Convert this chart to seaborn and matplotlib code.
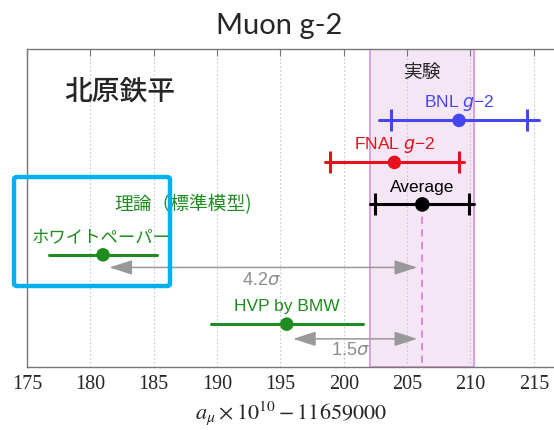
import numpy as np
import pandas as pd
import seaborn as sns
import matplotlib.pyplot as plt
from matplotlib.patches import FancyBboxPatch

# measurements (a_mu x 1e10 - 11659000)
names = ["BNL", "FNAL", "Average", "WP", "BMW"]
centers = [209.1, 204.0, 206.2, 181.0, 195.5]
err_total = [6.3, 5.5, 4.1, 4.3, 6.0]
err_stat = [5.4, 5.1, 3.7, None, None]
rows = [1.7, 2.7, 3.7, 4.9, 6.55]
colors = ["#4646F0", "#E8101C", "#000000", "#1E8C1E", "#1E8C1E"]

labels = ["BNL $g$\u22122", "FNAL $g$\u22122", "Average", "ホワイトペーパー", "HVP by BMW"]
tension_sigma = ["4.2", "1.5"]
tension_rows = [5.2, 6.9]

df = pd.DataFrame({"name": names, "x": centers, "y": rows})

sns.set_style("white")
plt.rcParams["font.family"] = ["Liberation Sans", "Noto Sans CJK JP", "DejaVu Sans"]

fig = plt.figure(figsize=(5.54, 4.30), dpi=100)
ax = fig.add_axes([27 / 554, 1 - 367 / 430, 543 / 554, 318 / 430])

avg = centers[2]
ax.axvspan(avg - err_total[2], avg + err_total[2], facecolor="#F4E6F4",
           edgecolor="#D99AD9", lw=1.3, zorder=0)
ax.plot([avg, avg], [rows[2], 7.6], ls=(0, (4, 3)), color="#E07EE0", lw=1.3, zorder=1)

for i in range(len(names)):
    c, e = centers[i], err_total[i]
    ax.plot([c - e, c + e], [rows[i], rows[i]], color=colors[i], lw=2.2, zorder=2)
    if err_stat[i] is not None:
        ax.errorbar(c, rows[i], xerr=err_stat[i], fmt="none", ecolor=colors[i],
                    elinewidth=0, capsize=8, capthick=2.2, zorder=2)

sns.scatterplot(data=df, x="x", y="y", hue="name", palette=dict(zip(names, colors)),
                s=[95, 95, 110, 95, 95], edgecolor="none", legend=False, ax=ax, zorder=3)

# labels above the points
for i in range(len(names)):
    if names[i] == "WP":
        continue
    ax.text(centers[i], rows[i] - 0.41, labels[i], color=colors[i], fontsize=12.5,
            ha="center", va="center", math_fontfamily="dejavusans", zorder=4)
ax.text(175.4, rows[3] - 0.42, labels[3], color=colors[3], fontsize=12.5,
        ha="left", va="center", family=["Noto Sans CJK JP"], zorder=4)

# tension arrows, theory value -> experimental average
for src, r in zip([centers[3], centers[4]], tension_rows):
    ax.annotate("", xy=(avg - 0.4, r), xytext=(src + 0.5, r),
                arrowprops=dict(arrowstyle="<|-|>,head_length=1.4,head_width=0.45",
                                color="#999999", lw=1.1, shrinkA=0, shrinkB=0), zorder=2)
ax.text(193.5, tension_rows[0] + 0.32, tension_sigma[0] + r"$\sigma$",
        color="#8C8C8C", fontsize=13, ha="center", va="center", math_fontfamily="dejavusans")
ax.text(200.5, tension_rows[1] + 0.28, tension_sigma[1] + r"$\sigma$",
        color="#8C8C8C", fontsize=13, ha="center", va="center", math_fontfamily="dejavusans")

ax.text(avg, 0.55, "実験", fontsize=13.5, ha="center", va="center",
        family=["Noto Sans CJK JP"])
ax.text(182.3, 1.0, "北原鉄平", fontsize=20, ha="center", va="center",
        family=["Noto Sans CJK JP"], weight="medium")
ax.text(181.9, 3.71, "理論（標準模型)", fontsize=13.5, ha="left", va="center",
        color="#1E8C1E", family=["Noto Sans CJK JP"])

ax.set_xlim(175, 217.86)
ax.set_ylim(7.57, 0)
ax.set_xticks(np.arange(175, 216, 5))
ax.set_yticks([])
ax.grid(axis="x", color="#C8C8C8", ls=(0, (1.5, 2)), lw=0.8)
ax.tick_params(axis="x", direction="in", top=True, length=5, color="#777777",
               labelsize=14.5, labelfontfamily="Liberation Serif", pad=6)
for sp in ax.spines.values():
    sp.set_color("#777777")
    sp.set_linewidth(1.0)
ax.set_xlabel(r"$a_\mu \times 10^{10} - 11659000$", fontsize=16,
              math_fontfamily="stix", labelpad=5)
ax.xaxis.set_label_coords(0.486, -0.1)
ax.set_ylabel("")

fig.text(279 / 554, 1 - 26 / 430, "Muon g-2", fontsize=21, ha="center", va="center",
         family=["Lato", "DejaVu Sans"])

box = FancyBboxPatch((14 / 554, 1 - 286 / 430), 156 / 554, 109 / 430,
                     boxstyle="round,pad=0,rounding_size=0.006", transform=fig.transFigure,
                     fill=False, edgecolor="#00B0F0", lw=3.2, zorder=10)
fig.patches.append(box)

fig.savefig("out.png", dpi=100)
